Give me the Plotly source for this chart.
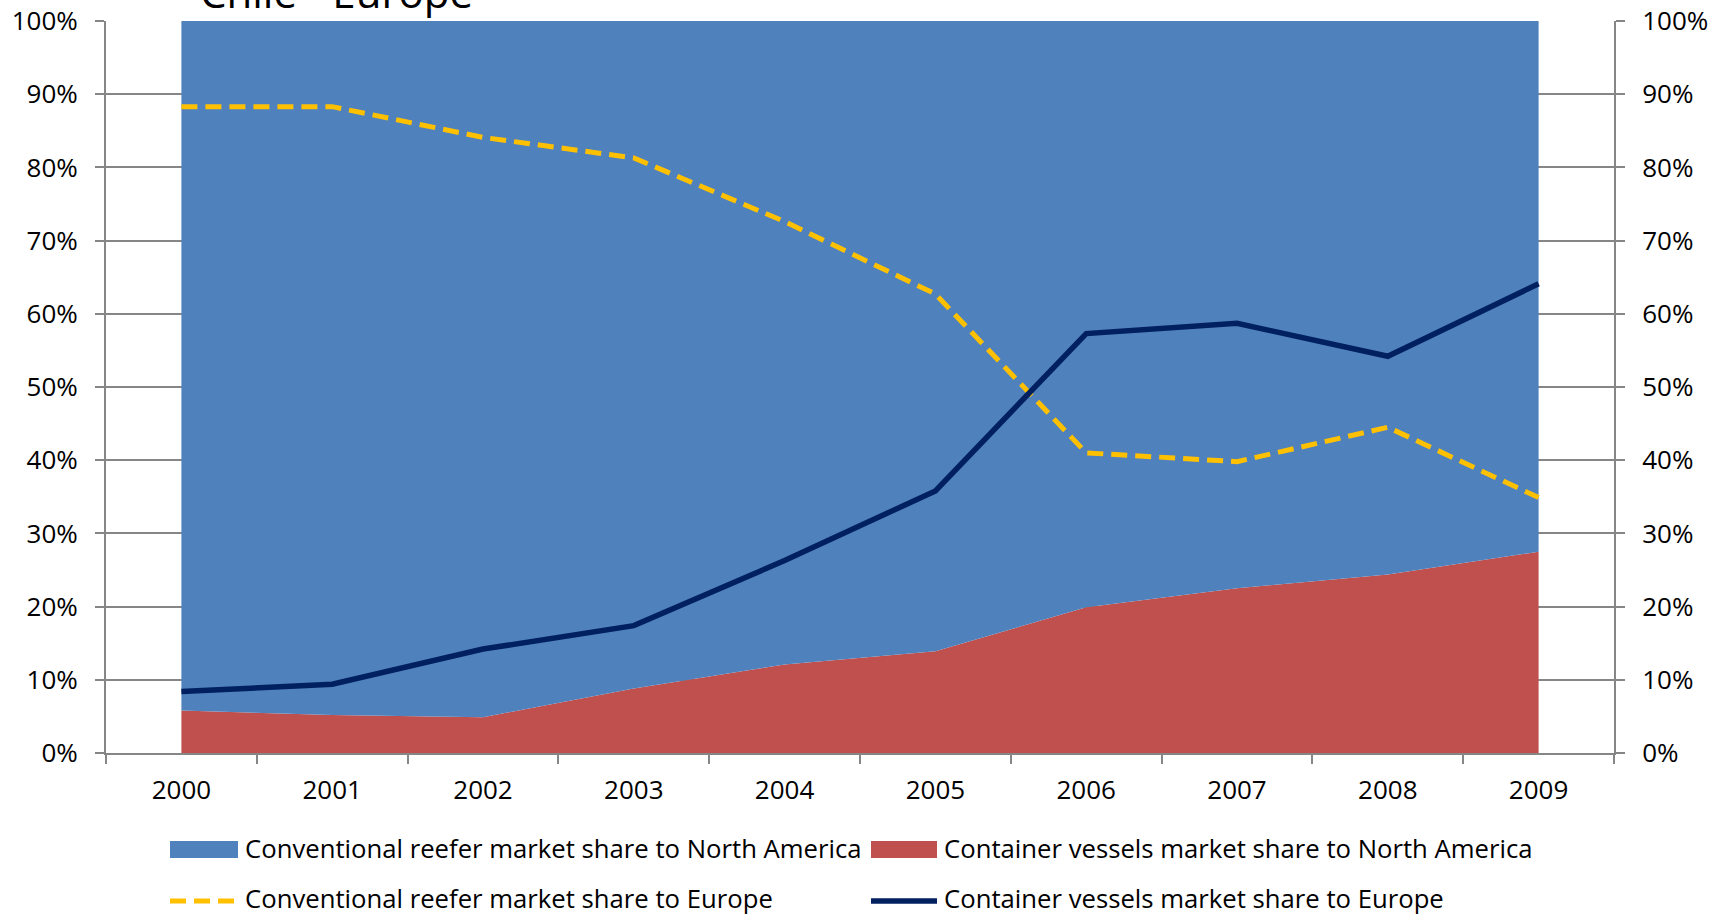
import plotly.graph_objects as go

# ---------------- data ----------------
years = [2000, 2001, 2002, 2003, 2004, 2005, 2006, 2007, 2008, 2009]
year_labels = ["2000", "2001", "2002", "2003", "2004", "2005", "2006", "2007", "2008", "2009"]
# market shares in percent
container_na = [5.8, 5.2, 4.9, 8.8, 12.1, 13.9, 19.9, 22.5, 24.4, 27.5]
conventional_na = [94.2, 94.8, 95.1, 91.2, 87.9, 86.1, 80.1, 77.5, 75.6, 72.5]
conventional_eu = [88.3, 88.3, 84.1, 81.3, 72.6, 62.7, 41.0, 39.8, 44.5, 34.9]
container_eu = [8.4, 9.4, 14.2, 17.4, 26.3, 35.8, 57.3, 58.7, 54.2, 64.1]
y_ticks = [0, 10, 20, 30, 40, 50, 60, 70, 80, 90, 100]
y_tick_labels = ["0%", "10%", "20%", "30%", "40%", "50%", "60%", "70%", "80%", "90%", "100%"]

names = [
    "Conventional reefer market share to North America",
    "Container vessels market share to North America",
    "Conventional reefer market share to Europe",
    "Container vessels market share to Europe",
]
title_text = "Chile - Europe"

# ---------------- styles ----------------
C_BLUE = "#4F81BD"
C_RED = "#C0504D"
C_YEL = "#FFC000"
C_NAVY = "#002060"
C_GRID = "#868686"
FONT = "Open Sans"
FS = 26
FS_LEG = 25.7

W, H = 1719, 917
ML, MR, MT, MB = 106, 105, 21, 164
PW, PH = W - ML - MR, H - MT - MB


def px(xp):
    return (xp - ML) / PW


def py(yp):
    return (H - MB - yp) / PH


fig = go.Figure()

fig.add_trace(go.Scatter(
    x=years, y=container_na, name=names[1], stackgroup="na",
    mode="lines", line=dict(width=0, color=C_RED), fillcolor=C_RED,
    showlegend=False,
))
fig.add_trace(go.Scatter(
    x=years, y=conventional_na, name=names[0], stackgroup="na",
    mode="lines", line=dict(width=0, color=C_BLUE), fillcolor=C_BLUE,
    showlegend=False,
))
fig.add_trace(go.Scatter(
    x=years, y=conventional_eu, name=names[2], mode="lines",
    line=dict(width=5, color=C_YEL, dash="16px,8px"), yaxis="y2",
    showlegend=False,
))
fig.add_trace(go.Scatter(
    x=years, y=container_eu, name=names[3], mode="lines",
    line=dict(width=5.5, color=C_NAVY), yaxis="y2",
    showlegend=False,
))

tickfont = dict(family=FONT, size=FS, color="black")

fig.update_layout(
    width=W, height=H,
    margin=dict(l=ML, r=MR, t=MT, b=MB, pad=0, autoexpand=False),
    paper_bgcolor="white", plot_bgcolor="white",
    showlegend=False,
    font=dict(family=FONT, size=FS, color="black"),
    xaxis=dict(
        range=[years[0] - 0.5, years[-1] + 0.5], automargin=False,
        tickmode="array", tickvals=years, ticktext=year_labels,
        ticks="", showgrid=False, zeroline=False,
        showline=True, linecolor=C_GRID, linewidth=2,
        tickfont=tickfont, ticklabelstandoff=13,
        minor=dict(
            tickmode="array",
            tickvals=[y - 0.5 for y in years] + [years[-1] + 0.5],
            ticks="outside", ticklen=9, tickwidth=2, tickcolor=C_GRID,
            showgrid=False,
        ),
    ),
    yaxis=dict(
        range=[0, 100], automargin=False,
        tickmode="array", tickvals=y_ticks, ticktext=y_tick_labels,
        showgrid=True, gridcolor=C_GRID, gridwidth=1.5,
        zeroline=False, showline=True, linecolor=C_GRID, linewidth=2,
        ticks="outside", ticklen=9, tickwidth=2, tickcolor=C_GRID,
        tickfont=tickfont, ticklabelstandoff=12,
    ),
    yaxis2=dict(
        range=[0, 100], automargin=False,
        tickmode="array", tickvals=y_ticks, ticktext=y_tick_labels,
        overlaying="y", side="right", showgrid=False, zeroline=False,
        showline=True, linecolor=C_GRID, linewidth=2,
        ticks="outside", ticklen=9, tickwidth=2, tickcolor=C_GRID,
        tickfont=tickfont, ticklabelstandoff=12,
    ),
)

# title (partly outside the page at the top, as in the reference)
fig.add_annotation(
    text=title_text, xref="paper", yref="paper",
    x=px(336), y=py(22), xanchor="center", yanchor="bottom",
    showarrow=False, font=dict(family=FONT, size=42, color="black"),
)

# custom legend
shapes = []
shapes.append(dict(type="rect", xref="paper", yref="paper",
                   x0=px(170), x1=px(238), y0=py(858), y1=py(841),
                   fillcolor=C_BLUE, line=dict(width=0)))
shapes.append(dict(type="rect", xref="paper", yref="paper",
                   x0=px(871), x1=px(937), y0=py(858), y1=py(841),
                   fillcolor=C_RED, line=dict(width=0)))
shapes.append(dict(type="line", xref="paper", yref="paper",
                   x0=px(170), x1=px(238), y0=py(901), y1=py(901),
                   line=dict(color=C_YEL, width=5, dash="16px,8px")))
shapes.append(dict(type="line", xref="paper", yref="paper",
                   x0=px(871), x1=px(937), y0=py(901), y1=py(901),
                   line=dict(color=C_NAVY, width=5.5)))
fig.update_layout(shapes=shapes)

legend_pos = [(243, 848), (942, 848), (243, 899), (942, 899)]
for i, (lx, ly) in enumerate(legend_pos):
    fig.add_annotation(
        text=names[i], xref="paper", yref="paper",
        x=px(lx), y=py(ly), xanchor="left", yanchor="middle",
        showarrow=False, font=dict(family=FONT, size=FS_LEG, color="black"),
    )

fig.write_html(
    "out.html",
    config={"displayModeBar": False},
    post_script="document.body.style.margin='0';document.body.style.overflow='hidden';",
)
